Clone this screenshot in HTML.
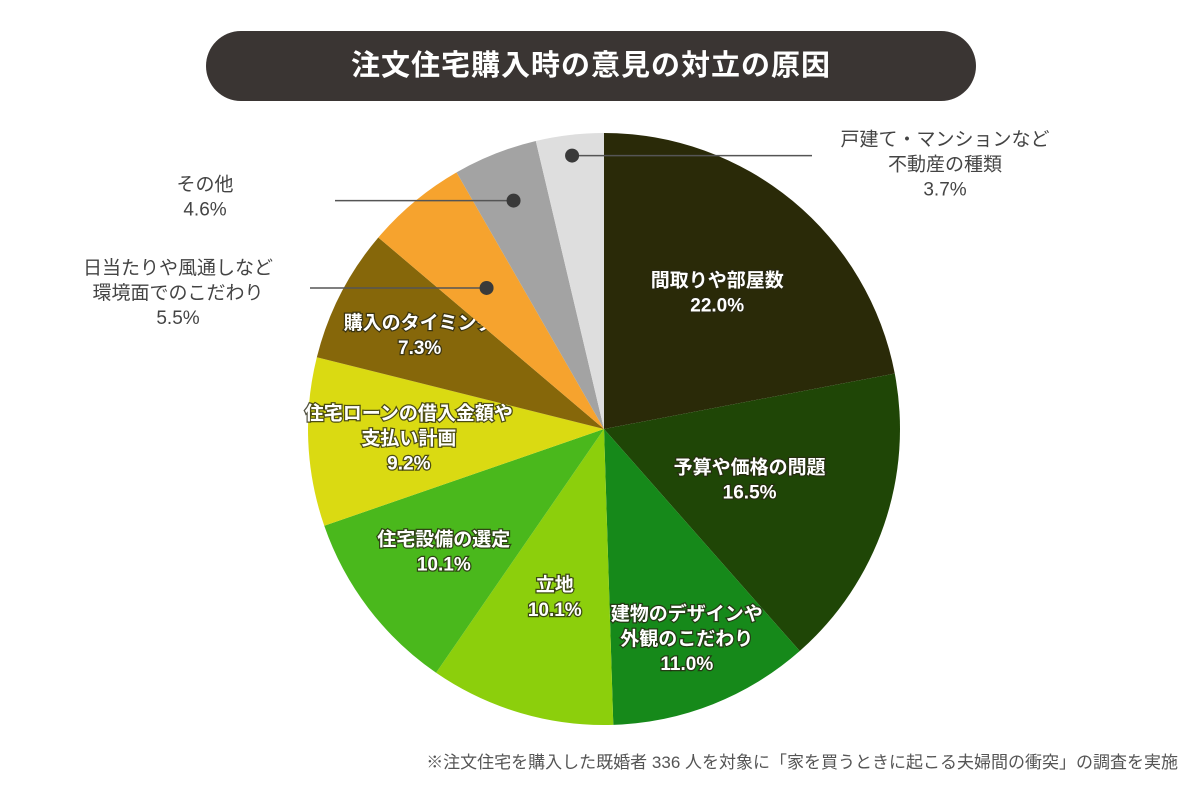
<!DOCTYPE html>
<html><head><meta charset="utf-8">
<style>
html,body{margin:0;padding:0;background:#fff;}
body{width:1200px;height:796px;position:relative;overflow:hidden;font-family:"Liberation Sans","Noto Sans CJK JP",sans-serif;}
#title{position:absolute;left:206px;top:31px;width:770px;height:70px;border-radius:35px;background:#3a3533;color:#fff;font-weight:bold;font-size:29px;text-align:center;line-height:70px;letter-spacing:1px;}
#note{position:absolute;right:22px;top:748px;font-size:17px;color:#555;}
svg{position:absolute;left:0;top:0;}
</style></head>
<body>
<div id="title">注文住宅購入時の意見の対立の原因</div>
<svg id="chart" width="1200" height="796"></svg>
<div id="note">※注文住宅を購入した既婚者 336 人を対象に「家を買うときに起こる夫婦間の衝突」の調査を実施</div>
<script>
const categories=["間取りや部屋数","予算や価格の問題","建物のデザインや|外観のこだわり","立地","住宅設備の選定","住宅ローンの借入金額や|支払い計画","購入のタイミング","日当たりや風通しなど|環境面でのこだわり","その他","戸建て・マンションなど|不動産の種類"];
const values=[22.0,16.5,11.0,10.1,10.1,9.2,7.3,5.5,4.6,3.7];
const colors=["#2a2a08","#1f4606","#16891a","#8ccf0c","#4ab81c","#dada12","#86670a","#f6a32e","#a3a3a3","#dedede"];
const NS="http://www.w3.org/2000/svg";
const svg=document.getElementById('chart');
const cx=604,cy=429,R=296;
const total=values.reduce((a,b)=>a+b,0);
function pt(a,r){return [cx+r*Math.sin(a),cy-r*Math.cos(a)];}
function mk(t,attrs){const e=document.createElementNS(NS,t);for(const k in attrs)e.setAttribute(k,attrs[k]);svg.appendChild(e);return e;}
const labelR=[0.6,0.52,0.76,0.59,0.68,0.66,0.70];
const dotR={7:0.62,8:0.83,9:0.93};
let acc=0;
values.forEach((v,i)=>{
  const a0=acc/total*2*Math.PI;acc+=v;const a1=acc/total*2*Math.PI;
  const p0=pt(a0,R),p1=pt(a1,R);
  const large=(a1-a0)>Math.PI?1:0;
  const p=mk('path',{d:`M${cx},${cy} L${p0[0]},${p0[1]} A${R},${R} 0 ${large} 1 ${p1[0]},${p1[1]} Z`,fill:colors[i]});
  
  
  const am=(a0+a1)/2;
  const lines=categories[i].split('|').concat([v.toFixed(1)+'%']);
  if(i<7){
    const c=pt(am,R*labelR[i]);
    const tx=mk('text',{x:c[0],y:c[1]-(lines.length-1)*12.5+7,'text-anchor':'middle','font-size':19,fill:'#fff',stroke:'rgba(40,40,20,0.8)','stroke-width':2.5,'paint-order':'stroke','font-weight':'bold'});
    
    
    lines.forEach((l,j)=>{const s=document.createElementNS(NS,'tspan');s.setAttribute('x',c[0]);s.setAttribute('dy',j?25:0);s.textContent=l;tx.appendChild(s);});
  } else {
    const d=pt(am,R*dotR[i]);
    const right=i===9;
    const lx=right?812:(i===8?335:310);
    const ln=mk('line',{x1:d[0],y1:d[1],x2:lx,y2:d[1],stroke:'#555','stroke-width':1.5});
    
    
    const dot=mk('circle',{cx:d[0],cy:d[1],r:7,fill:'#3a3a3a'});
    
    
    const tcx=right?945:(i===8?205:178);
    const ty=i===7?d[1]-14:d[1]-10;
    const tx=mk('text',{x:tcx,y:ty,'text-anchor':'middle','font-size':19,fill:'#444'});
    
    
    lines.forEach((l,j)=>{const s=document.createElementNS(NS,'tspan');s.setAttribute('x',tcx);s.setAttribute('dy',j?25:0);s.textContent=l;tx.appendChild(s);});
  }
});
</script>
</body></html>
